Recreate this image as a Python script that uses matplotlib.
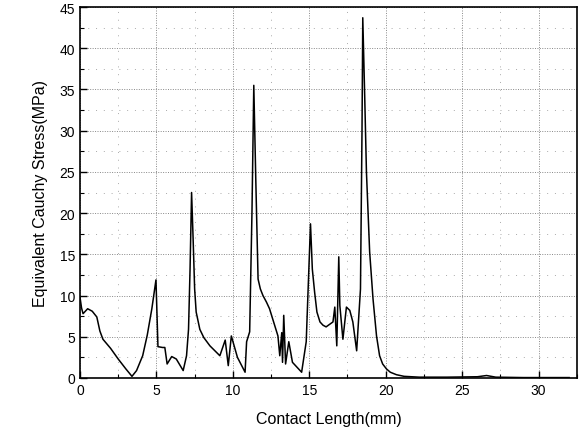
import matplotlib
matplotlib.use("Agg")
import matplotlib.pyplot as plt
from matplotlib.ticker import MultipleLocator

contact_length_mm = [0.0, 0.1, 0.2, 0.5, 0.8, 1.1, 1.3, 1.5, 2.0, 2.5, 3.0, 3.4, 3.7, 4.1, 4.4, 4.7, 4.97,
                     5.1, 5.4, 5.55, 5.7, 6.0, 6.3, 6.75, 6.97, 7.1, 7.2, 7.3, 7.4, 7.5, 7.6, 7.84, 8.1,
                     8.5, 9.15, 9.5, 9.7, 9.9, 10.3, 10.8, 10.9, 11.1, 11.25, 11.37, 11.5, 11.65, 11.8,
                     11.97, 12.2, 12.4, 12.75, 12.95, 13.07, 13.2, 13.25, 13.33, 13.45, 13.66, 13.9,
                     14.5, 14.8, 14.98, 15.08, 15.2, 15.35, 15.5, 15.7, 15.9, 16.1, 16.55, 16.67, 16.8,
                     16.93, 17.0, 17.2, 17.43, 17.65, 17.85, 18.1, 18.35, 18.45, 18.5, 18.63, 18.74,
                     18.95, 19.17, 19.4, 19.6, 19.8, 20.05, 20.3, 20.7, 21.2, 22.2, 24.0, 26.0, 26.6,
                     27.2, 29.0, 31.0, 32.0]
cauchy_stress_mpa = [9.8, 8.5, 7.8, 8.4, 8.1, 7.4, 5.7, 4.7, 3.6, 2.3, 1.1, 0.2, 0.9, 2.7, 5.2, 8.4, 11.9,
                     3.8, 3.7, 3.7, 1.7, 2.6, 2.3, 0.9, 2.7, 5.9, 13.2, 22.5, 16.9, 10.8, 8.0, 5.9, 4.9,
                     3.9, 2.7, 4.6, 1.5, 5.1, 2.5, 0.7, 4.4, 5.6, 20.0, 35.5, 24.1, 12.0, 10.8,
                     10.0, 9.2, 8.4, 6.3, 5.1, 2.7, 5.5, 1.9, 7.6, 1.7, 4.4, 1.9,
                     0.7, 4.4, 13.6, 18.7, 13.2, 10.4, 8.0, 6.8, 6.4, 6.2, 6.8, 8.6, 3.9,
                     14.7, 8.8, 4.7, 8.6, 8.2, 6.8, 3.3, 10.8, 30.0, 43.7, 33.9, 25.0,
                     15.3, 9.6, 5.1, 2.7, 1.7, 1.1, 0.7, 0.4, 0.2, 0.1, 0.1, 0.15, 0.3,
                     0.1, 0.05, 0.05, 0.05]

x_ticks = [0, 5, 10, 15, 20, 25, 30]
y_ticks = [0, 5, 10, 15, 20, 25, 30, 35, 40, 45]

plt.rcParams['font.family'] = ['Liberation Sans', 'DejaVu Sans']

fig = plt.figure(figsize=(5.81, 4.39), dpi=100)
ax = fig.add_axes([0.1377, 0.1367, 0.855, 0.845])

ax.plot(contact_length_mm, cauchy_stress_mpa, color='black', lw=1.1)

ax.set_xlim(0, 32.5)
ax.set_ylim(0, 45)
ax.set_xticks(x_ticks)
ax.set_yticks(y_ticks)
ax.xaxis.set_minor_locator(MultipleLocator(2.5))
ax.yaxis.set_minor_locator(MultipleLocator(2.5))
ax.tick_params(which='major', direction='in', length=5, width=1.0, labelsize=10)
ax.tick_params(which='minor', direction='in', length=3, width=0.8)

ax.grid(which='major', color='#888888', linestyle=(0, (1, 1.5)), linewidth=0.7)
ax.grid(which='minor', color='#aaaaaa', linestyle=(0, (1, 7)), linewidth=0.7)
ax.set_axisbelow(True)

for s in ax.spines.values():
    s.set_linewidth(1.2)

ax.set_xlabel('Contact Length(mm)', fontsize=11.5, labelpad=10)
ax.set_ylabel('Equivalent Cauchy Stress(MPa)', fontsize=11.5, labelpad=8)

fig.savefig('out.png', dpi=100)
